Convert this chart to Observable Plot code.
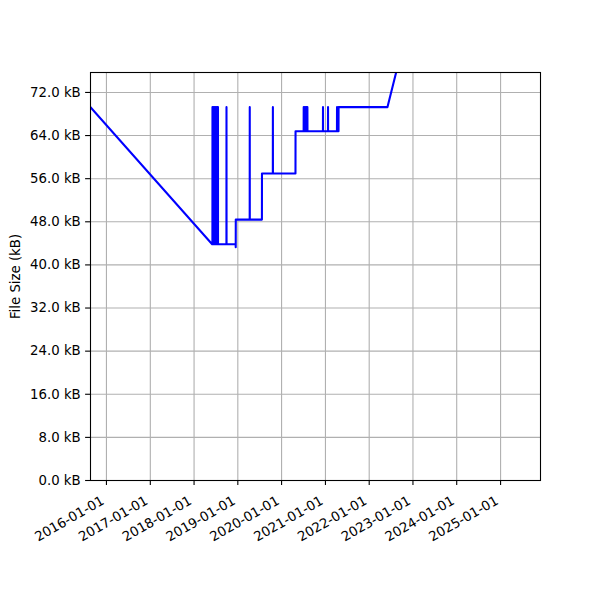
<!DOCTYPE html>
<html><head><meta charset="utf-8">
<script src="https://cdn.jsdelivr.net/npm/d3@7"></script>
<script src="https://cdn.jsdelivr.net/npm/@observablehq/plot@0.6"></script>
<style>body{margin:0;background:#fff} #chart{width:600px;height:600px}</style>
</head><body><div id="chart"></div>
<script>
// Commit dates and file sizes (kB)
const dates = [
  "2015-08-21T00:00Z","2018-06-01T00:00Z",
  "2018-06-03T00:00Z","2018-06-03T12:00Z","2018-06-04T00:00Z",
  "2018-06-10T00:00Z","2018-06-10T12:00Z","2018-06-11T00:00Z",
  "2018-06-18T00:00Z","2018-06-18T12:00Z","2018-06-19T00:00Z",
  "2018-06-26T00:00Z","2018-06-26T12:00Z","2018-06-27T00:00Z",
  "2018-07-04T00:00Z","2018-07-04T12:00Z","2018-07-05T00:00Z",
  "2018-07-12T00:00Z","2018-07-12T12:00Z","2018-07-13T00:00Z",
  "2018-07-19T00:00Z","2018-07-19T12:00Z","2018-07-20T00:00Z",
  "2018-09-28T00:00Z","2018-09-28T12:00Z","2018-09-29T00:00Z",
  "2018-12-14T00:00Z","2018-12-14T12:00Z","2018-12-15T00:00Z",
  "2019-04-10T00:00Z","2019-04-10T12:00Z","2019-04-11T00:00Z",
  "2019-07-21T00:00Z","2019-07-21T12:00Z",
  "2019-10-20T00:00Z","2019-10-20T12:00Z","2019-10-21T00:00Z",
  "2020-04-26T00:00Z","2020-04-26T12:00Z",
  "2020-07-03T00:00Z","2020-07-03T12:00Z","2020-07-04T00:00Z",
  "2020-07-11T00:00Z","2020-07-11T12:00Z","2020-07-12T00:00Z",
  "2020-07-19T00:00Z","2020-07-19T12:00Z","2020-07-20T00:00Z",
  "2020-07-27T00:00Z","2020-07-27T12:00Z","2020-07-28T00:00Z",
  "2020-08-03T00:00Z","2020-08-03T12:00Z","2020-08-04T00:00Z",
  "2020-12-11T00:00Z","2020-12-11T12:00Z","2020-12-12T00:00Z",
  "2021-01-22T00:00Z","2021-01-22T12:00Z","2021-01-23T00:00Z",
  "2021-04-07T00:00Z","2021-04-07T12:00Z","2021-04-08T00:00Z",
  "2021-04-20T00:00Z","2021-04-20T12:00Z",
  "2022-06-02T00:00Z","2023-01-22T00:00Z"
];
const sizesKB = [
  69.27, 43.83,
  43.83, 69.27, 43.83,
  43.83, 69.27, 43.83,
  43.83, 69.27, 43.83,
  43.83, 69.27, 43.83,
  43.83, 69.27, 43.83,
  43.83, 69.27, 43.83,
  43.83, 69.27, 43.83,
  43.83, 69.27, 43.83,
  43.83, 43.30, 48.41,
  48.41, 69.27, 48.41,
  48.41, 56.95,
  56.95, 69.27, 56.95,
  56.95, 64.80,
  64.80, 69.27, 64.80,
  64.80, 69.27, 64.80,
  64.80, 69.27, 64.80,
  64.80, 69.27, 64.80,
  64.80, 69.27, 64.80,
  64.80, 69.27, 64.80,
  64.80, 69.27, 64.80,
  64.80, 69.27, 64.80,
  64.80, 69.27,
  69.27, 90.0
];
const xTickDates = ["2016-01-01","2017-01-01","2018-01-01","2019-01-01","2020-01-01",
                    "2021-01-01","2022-01-01","2023-01-01","2024-01-01","2025-01-01"];
const yTicks = [0, 8, 16, 24, 32, 40, 48, 56, 64, 72];
const xDomain = ["2015-08-21", "2025-11-30"];
const yDomain = [0, 75.7];
const yLabel = "File Size (kB)";

const data = dates.map((d, i) => ({date: new Date(d), size: sizesKB[i]}));
const xt = xTickDates.map(d => new Date(d + "T00:00Z"));
const fmt = d3.utcFormat("%Y-%m-%d");

const chart = Plot.plot({
  width: 600, height: 600,
  marginLeft: 90, marginRight: 60, marginTop: 72, marginBottom: 120,
  style: {fontFamily: "DejaVu Sans", fontSize: "13.3px", color: "black", background: "white"},
  x: {type: "utc", domain: xDomain.map(d => new Date(d + "T00:00Z"))},
  y: {domain: yDomain},
  marks: [
    Plot.gridX(xt, {stroke: "#b0b0b0", strokeOpacity: 1, strokeWidth: 1.1}),
    Plot.gridY(yTicks, {stroke: "#b0b0b0", strokeOpacity: 1, strokeWidth: 1.1}),
    Plot.line(data, {x: "date", y: "size", stroke: "#0000ff", strokeWidth: 2.08, clip: true}),
    Plot.frame({stroke: "black", strokeWidth: 1.1}),
    // tick marks only
    Plot.axisX(xt, {tickFormat: () => "", tickSize: 4.9, strokeWidth: 1.1, label: null}),
    // rotated labels only, right edge aligned to tick
    Plot.axisX(xt, {tickFormat: fmt, tickRotate: -30, tickSize: 0, tickPadding: 19,
      dx: -3.5, label: null}),
    Plot.axisY(yTicks, {tickFormat: d => d.toFixed(1) + " kB", tickSize: 4.9, tickPadding: 4.9,
      strokeWidth: 1.1, label: yLabel, labelAnchor: "center", labelArrow: "none", labelOffset: 80})
  ]
});
document.getElementById("chart").append(chart);
</script></body></html>
